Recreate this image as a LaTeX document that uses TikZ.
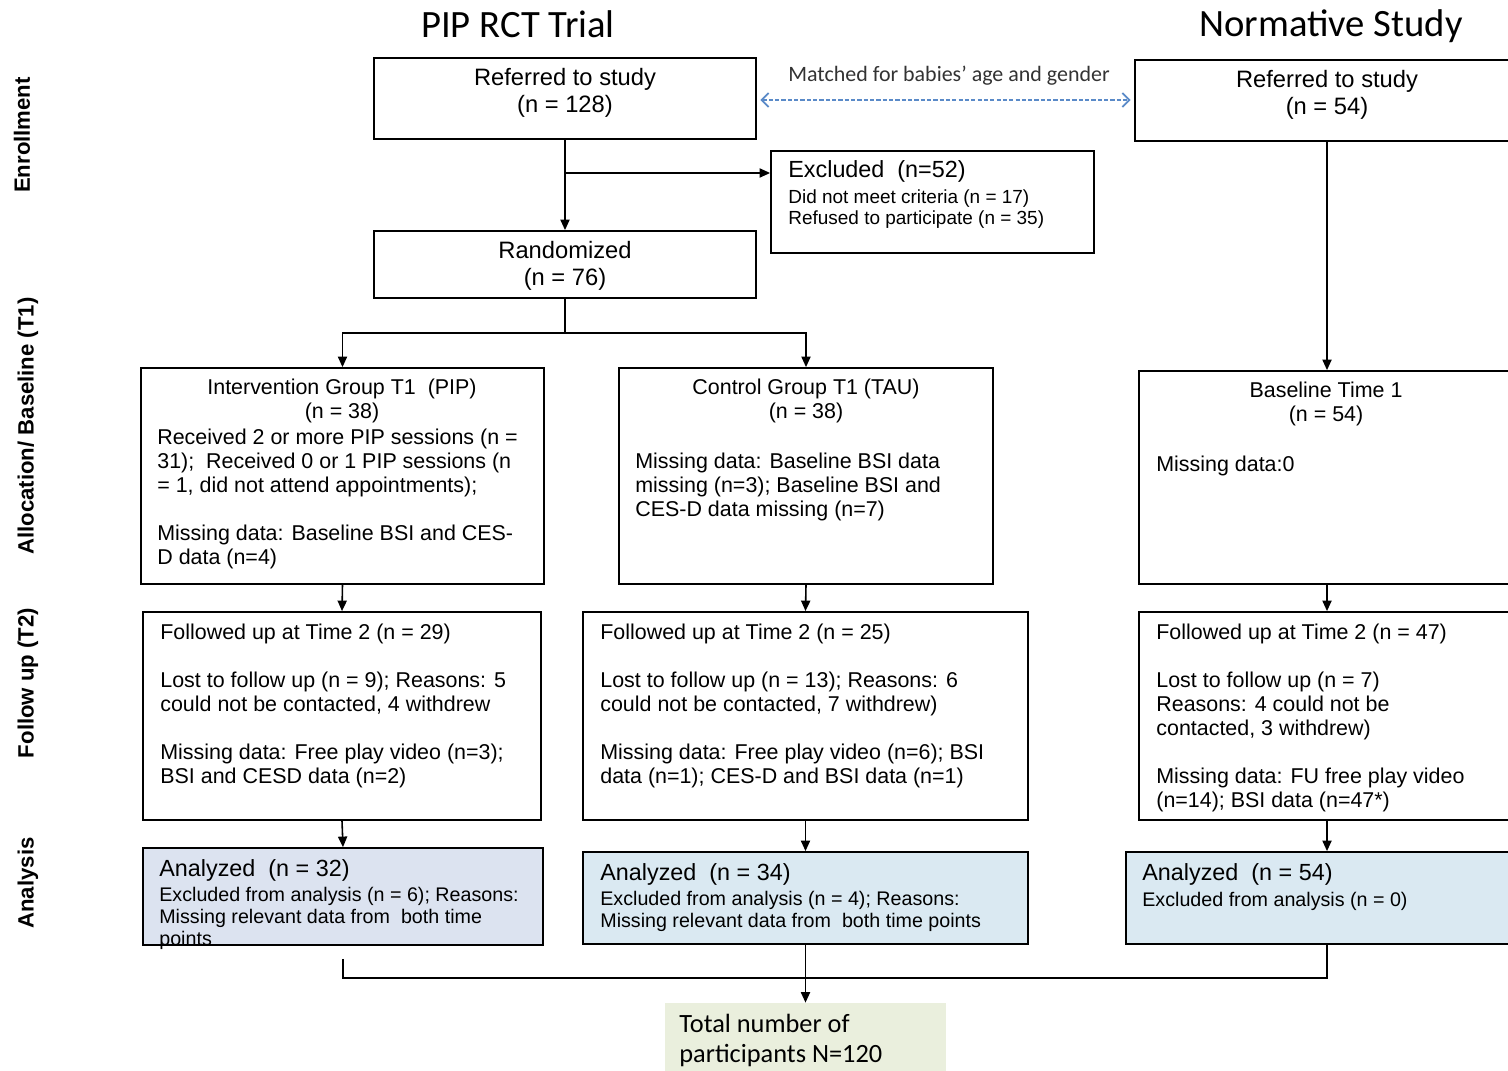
\documentclass[tikz,border=0pt]{standalone}
\usepackage{fontspec}
\setmainfont{Liberation Sans}
\newfontfamily\calibri{Carlito}
\usetikzlibrary{arrows.meta,fit}

\definecolor{anagrey}{HTML}{DCE3F0}
\definecolor{anablue}{HTML}{DAE9F2}
\definecolor{totgreen}{HTML}{EAEFDD}
\definecolor{matchblue}{HTML}{5A8AC8}

\begin{document}
\begin{tikzpicture}[x=0.02cm, y=-0.02cm,
  box/.style={draw, line width=1pt, inner sep=0pt},
  arr/.style={line width=0.9pt, -{Triangle[length=6pt,width=5.2pt]}},
  link/.style={line width=0.9pt},
  head/.style={font=\fontsize{13.5}{15.3}\selectfont, align=center, inner sep=0pt},
  subhead/.style={font=\fontsize{12.2}{13.6}\selectfont, align=center, inner sep=0pt},
  body/.style={font=\fontsize{12.2}{13.6}\selectfont, align=left, anchor=north west, inner sep=0pt},
  small/.style={font=\fontsize{11.2}{12.5}\selectfont, align=left, anchor=north west, inner sep=0pt},
  anhead/.style={font=\fontsize{13.3}{15}\selectfont, anchor=west, inner sep=0pt},
  phase/.style={font=\bfseries\fontsize{12.6}{14}\selectfont, rotate=90, inner sep=0pt},
  studytitle/.style={font=\calibri\fontsize{22}{26}\selectfont, inner sep=0pt}]

\useasboundingbox (0,0) rectangle (1508,1071);
\clip (0,0) rectangle (1508,1071);

% column titles and phase labels
\node[studytitle] (pipt) at (518,24) {PIP RCT Trial};
\node[studytitle] (normt) at (1331,26) {Normative Study};

\node[phase] (enrol) at (22,135) {Enrollment};
\node[phase] (alloc) at (28,426) {Allocation/ Baseline (T1)};
\node[phase] (follow) at (28,683) {Follow up (T2)};
\node[phase] (anal) at (28,883) {Analysis};

% enrollment
\node[box, fit={(374,58) (756,139)}] (ref1) {};
\node[head] (ref1t) at (565,93) {Referred to study\\(n = 128)};
\node[box, fit={(1135,60) (1519,141)}] (ref2) {};
\node[head] (ref2t) at (1327,95) {Referred to study\\(n = 54)};

\node[box, fit={(771,151) (1094,253)}] (excl) {};
\node[anhead] (exclh) at (788,171) {Excluded\ \ (n=52)};
\node[small, font=\fontsize{10.8}{11.9}\selectfont] (exclb) at (788,189) {Did not meet criteria (n = 17)\\Refused to participate (n = 35)};

\node[box, fit={(374,231) (756,298)}] (rand) {};
\node[head] (randt) at (565,266) {Randomized\\(n = 76)};

% matched for age and gender
\draw[line width=1pt, matchblue, dash pattern=on 2.4pt off 1.2pt,
  {Straight Barb[length=4pt,width=8pt]}-{Straight Barb[length=4pt,width=8pt]}, shorten <=2pt, shorten >=2pt]
  (ref1.east |- 0,100) -- (ref2.west |- 0,100);
\node[font=\calibri\fontsize{12.5}{14}\selectfont, text=black!80, inner sep=0pt] (matcht) at (949,76) {Matched for babies’ age and gender};

% allocation / baseline (T1)
\node[box, fit={(141,368) (544,584)}] (int1) {};
\node[subhead] (int1h) at (342,401) {Intervention Group T1\ \ (PIP)\\(n = 38)};
\node[body] (int1b) at (157,429) {Received 2 or more PIP sessions (n =\\31);\ \ Received 0 or 1 PIP sessions (n\\= 1, did not attend appointments);\\[13.6pt]Missing data: Baseline BSI and CES-\\D data (n=4)};

\node[box, fit={(619,368) (993,584)}] (ctl1) {};
\node[subhead] (ctl1h) at (806,401) {Control Group T1 (TAU)\\(n = 38)};
\node[body] (ctl1b) at (635,453) {Missing data: Baseline BSI data\\missing (n=3); Baseline BSI and\\CES-D data missing (n=7)};

\node[box, fit={(1139,371) (1515,584)}] (base1) {};
\node[subhead] (base1h) at (1326,404) {Baseline Time 1\\(n = 54)};
\node[body] (base1b) at (1156,456) {Missing data:0};

% follow up (T2)
\node[box, fit={(143,612) (541,820)}] (fu1) {};
\node[body] (fu1t) at (160,624) {Followed up at Time 2 (n = 29)\\[13.6pt]Lost to follow up (n = 9); Reasons: 5\\could not be contacted, 4 withdrew\\[13.6pt]Missing data: Free play video (n=3);\\BSI and CESD data (n=2)};

\node[box, fit={(583,612) (1028,820)}] (fu2) {};
\node[body] (fu2t) at (600,624) {Followed up at Time 2 (n = 25)\\[13.6pt]Lost to follow up (n = 13); Reasons: 6\\could not be contacted, 7 withdrew)\\[13.6pt]Missing data: Free play video (n=6); BSI\\data (n=1); CES-D and BSI data (n=1)};

\node[box, fit={(1139,612) (1515,820)}] (fu3) {};
\node[body] (fu3t) at (1156,624) {Followed up at Time 2 (n = 47)\\[13.6pt]Lost to follow up (n = 7)\\Reasons: 4 could not be\\contacted, 3 withdrew)\\[13.6pt]Missing data: FU free play video\\(n=14); BSI data (n=47*)};

% analysis
\node[box, fill=anagrey, fit={(143,848) (543,945)}] (an1) {};
\node[anhead] (an1h) at (159,870) {Analyzed\ \ (n = 32)};
\node[small] (an1b) at (159,887) {Excluded from analysis (n = 6); Reasons:\\Missing relevant data from\ \ both time\\points};

\node[box, fill=anablue, fit={(583,852) (1028,944)}] (an2) {};
\node[anhead] (an2h) at (600,874) {Analyzed\ \ (n = 34)};
\node[small] (an2b) at (600,891) {Excluded from analysis (n = 4); Reasons:\\Missing relevant data from\ \ both time points};

\node[box, fill=anablue, fit={(1126,852) (1528,944)}] (an3) {};
\node[anhead] (an3h) at (1142,874) {Analyzed\ \ (n = 54)};
\node[small] (an3b) at (1142,892) {Excluded from analysis (n = 0)};

% total
\node[fill=totgreen, inner sep=0pt, fit={(665,1003) (946,1075)}] (total) {};
\node[font=\calibri\fontsize{15}{17}\selectfont, align=left, anchor=north west, inner sep=0pt] (totalt) at (679,1014) {Total number of\\participants N=120};

% connectors
\coordinate (split) at (565,173);
\coordinate (fork) at (565,333);
\coordinate (join) at (an2.south |- 0,978);

\draw[arr] (ref1.south) -- (rand.north);
\draw[arr] (split) -- (split -| excl.west);
\draw[link] (rand.south) -- (fork);
\draw[arr] (fork) -| (int1.north);
\draw[arr] (fork) -| (ctl1.north);
\draw[arr] (ref2.south) -- (base1.north);

\draw[arr] (int1.south) -- (fu1.north);
\draw[arr] (ctl1.south) -- (fu2.north);
\draw[arr] (base1.south) -- (fu3.north);

\draw[arr] (fu1.south) -- (an1.north);
\draw[arr] (fu2.south) -- (an2.north);
\draw[arr] (fu3.south) -- (an3.north);

\draw[link, shorten <=0.26cm] (an1.south) |- (join);
\draw[link] (an3.south) |- (join);
\draw[link] (an2.south) -- (join);
\draw[arr] (join) -- (join |- total.north);

\end{tikzpicture}
\end{document}
